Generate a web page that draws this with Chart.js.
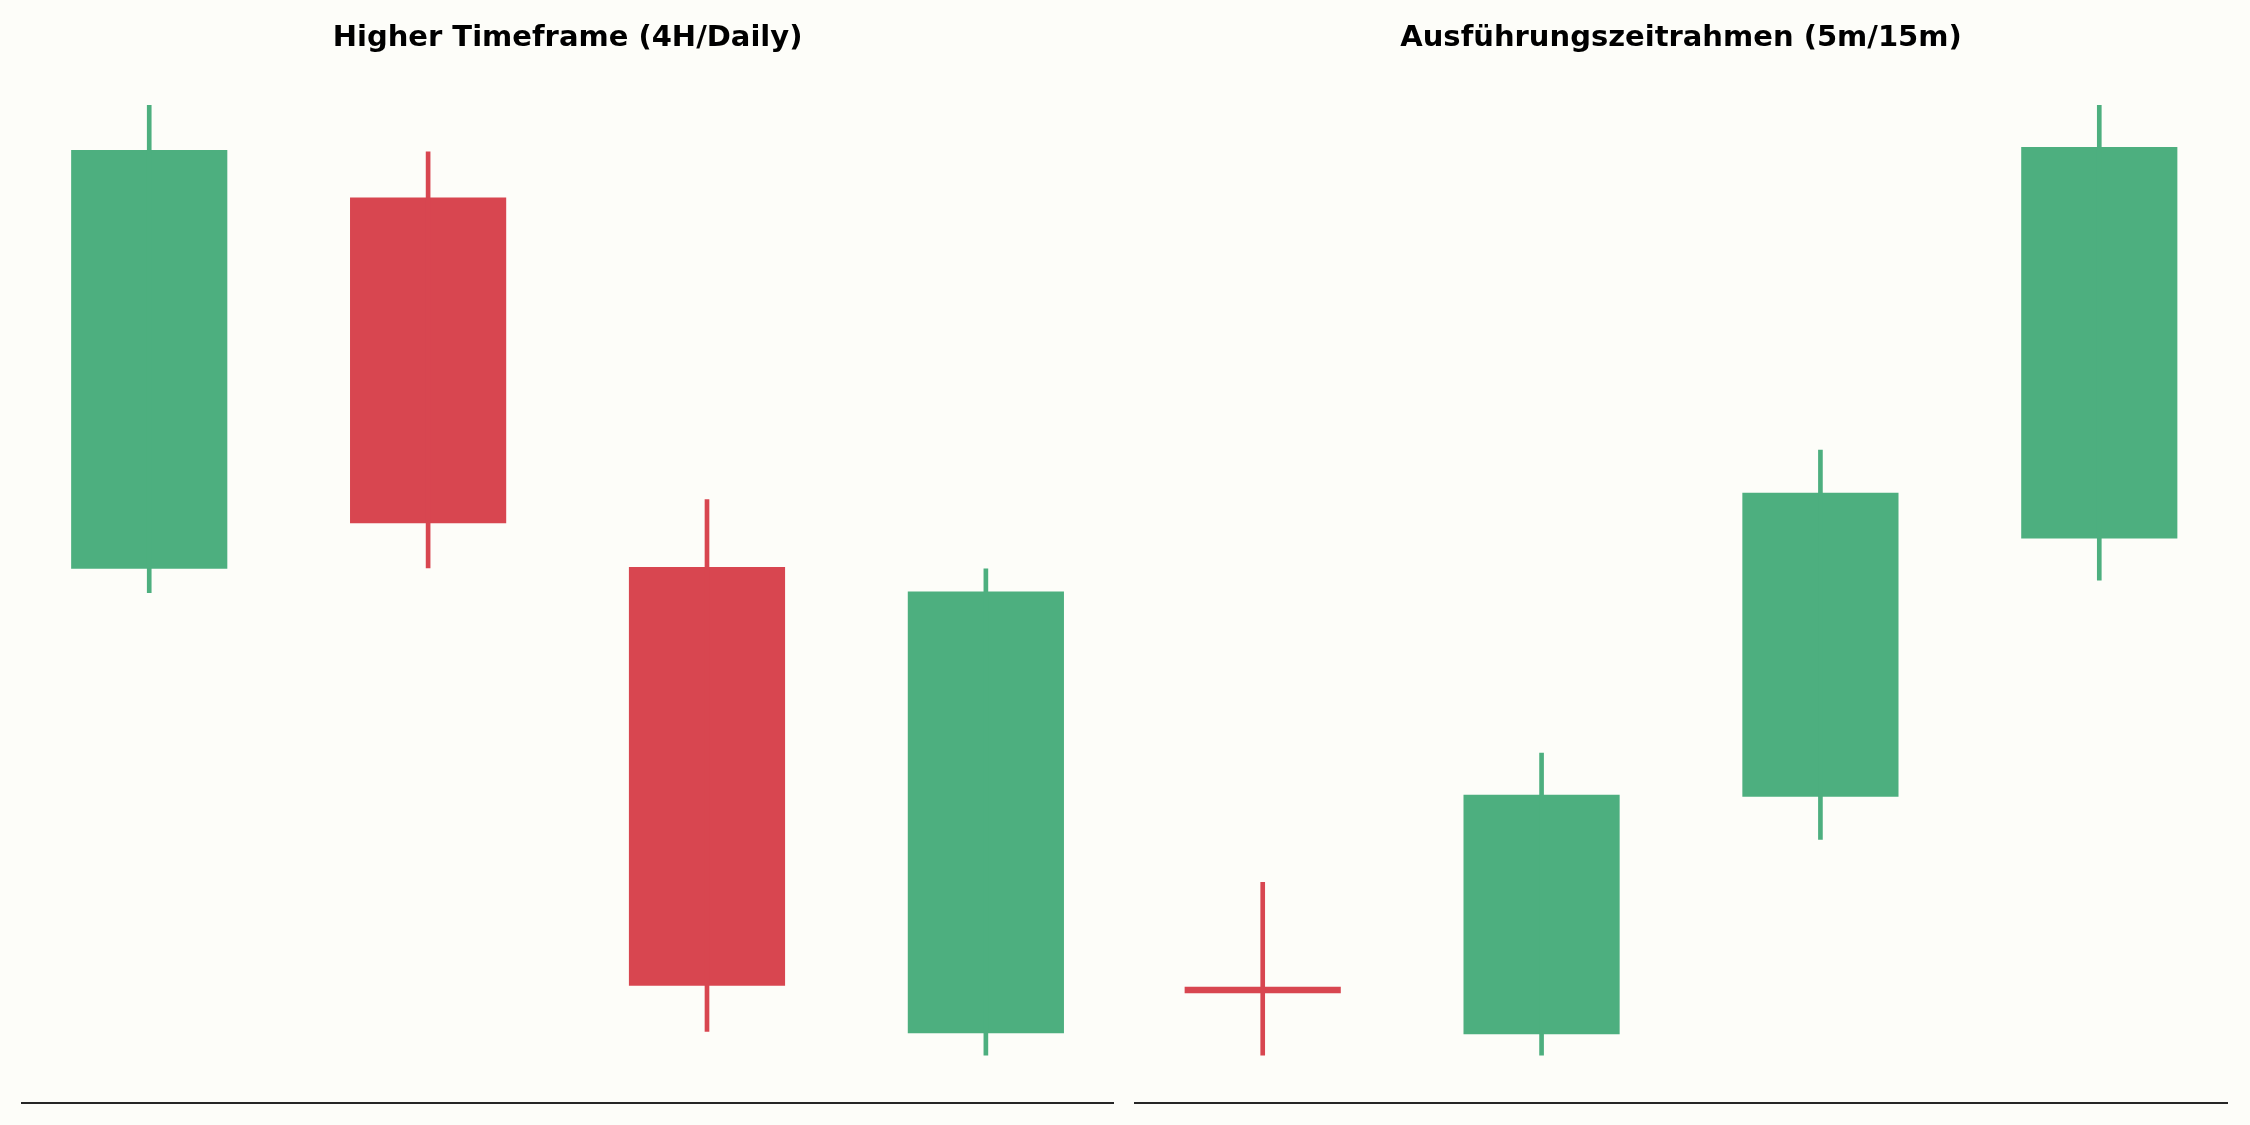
<!DOCTYPE html>
<html>
<head>
  <meta charset="utf-8">
  <title>Higher Timeframe vs Ausführungszeitrahmen</title>
  <script src="https://cdn.jsdelivr.net/npm/chart.js@4.4.1/dist/chart.umd.min.js"></script>
  <style>
    body { margin: 0; background: #fdfdf9; }
    #wrap { position: relative; width: 2250px; height: 1125px; }
    canvas { position: absolute; top: 0; }
    #htfCanvas { left: 0; }
    #ltfCanvas { left: 1125px; }
  </style>
</head>
<body>
  <div id="wrap">
    <canvas id="htfCanvas" width="1125" height="1125"></canvas>
    <canvas id="ltfCanvas" width="1125" height="1125"></canvas>
  </div>

  <script>
    // candle positions (0..3) and OHLC values for each panel
    const candleIndex = [0, 1, 2, 3];

    const htfTitle = 'Higher Timeframe (4H/Daily)';
    const htfOpen  = [105.12, 109.03, 105.14, 100.23];
    const htfHigh  = [110.00, 109.51, 105.85, 105.12];
    const htfLow   = [104.87, 105.13, 100.25, 100.00];
    const htfClose = [109.53, 105.60, 100.73, 104.88];

    const ltfTitle = 'Ausführungszeitrahmen (5m/15m)';
    const ltfOpen  = [100.72, 100.22, 102.72, 105.44];
    const ltfHigh  = [101.82, 103.18, 106.37, 110.00];
    const ltfLow   = [100.00, 100.00, 102.27, 105.00];
    const ltfClose = [100.65, 102.74, 105.92, 109.56];

    const upColor = '#4daf7f';
    const downColor = '#d84650';

    function candleColors(open, close) {
      return open.map((o, i) => close[i] >= o ? upColor : downColor);
    }

    function createCandleChart(canvasId, title, open, high, low, close, pad) {
      const ctx = document.getElementById(canvasId).getContext('2d');
      const colors = candleColors(open, close);

      new Chart(ctx, {
        type: 'bar',
        data: {
          datasets: [
            {
              label: 'wick',
              data: candleIndex.map(i => ({ x: i, y: [low[i], high[i]] })),
              backgroundColor: colors,
              grouped: false,
              barThickness: 4,
              borderWidth: 0
            },
            {
              label: 'body',
              data: candleIndex.map(i => ({ x: i, y: [open[i], close[i]] })),
              backgroundColor: colors,
              grouped: false,
              categoryPercentage: 1,
              barPercentage: 0.56,
              borderWidth: 0
            }
          ]
        },
        options: {
          responsive: false,
          animation: false,
          layout: {
            padding: pad
          },
          plugins: {
            legend: { display: false },
            tooltip: { enabled: false },
            title: {
              display: true,
              text: title,
              fullSize: false,
              color: '#000000',
              font: { family: 'DejaVu Sans', size: 29, weight: 'bold' },
              padding: { top: 21, bottom: 2 }
            }
          },
          scales: {
            x: {
              type: 'linear',
              offset: false,
              min: -0.458,
              max: 3.458,
              grid: { display: false, drawTicks: false },
              ticks: { display: false, stepSize: 1, includeBounds: false },
              border: { display: true, color: '#262626', width: 2 }
            },
            y: {
              display: false,
              min: 99.5,
              max: 110.5
            }
          }
        }
      });
    }

    createCandleChart('htfCanvas', htfTitle, htfOpen, htfHigh, htfLow, htfClose,
      { left: 21.5, right: 11.4, top: 0, bottom: 22.4 });
    createCandleChart('ltfCanvas', ltfTitle, ltfOpen, ltfHigh, ltfLow, ltfClose,
      { left: 10, right: 23, top: 0, bottom: 22.4 });
  </script>
</body>
</html>
